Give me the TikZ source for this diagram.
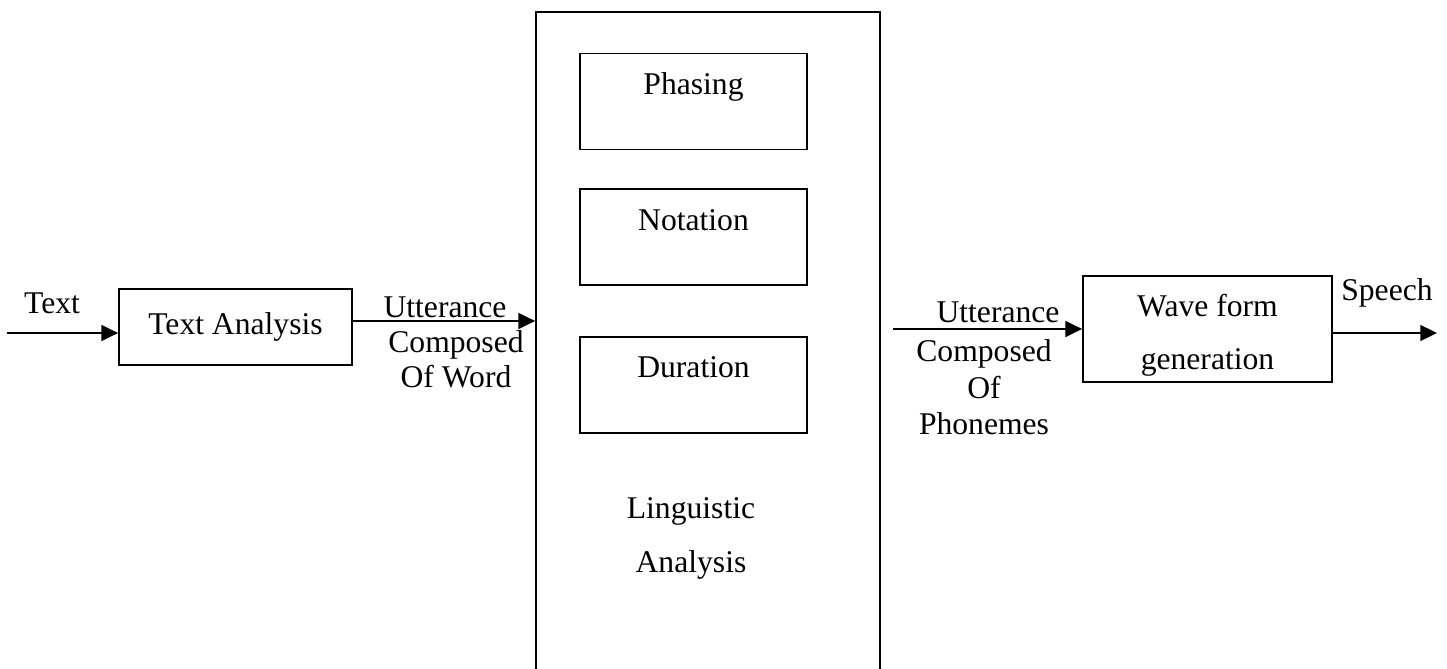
\documentclass[tikz,border=0pt]{standalone}
\usepackage{fontspec}
\setmainfont{Liberation Serif}
\usetikzlibrary{arrows.meta,positioning}

\begin{document}
\begin{tikzpicture}[
  x=0.02cm, y=-0.02cm,
  font=\fontsize{18}{20}\selectfont,
  box/.style={draw,line width=1pt,minimum width=4.66cm,minimum height=1.52cm,inner sep=0pt},
  subbox/.style={draw,line width=1pt,minimum width=4.54cm,inner sep=0pt,text height=0.82cm,text depth=1.10cm},
  arr/.style={-{Triangle[length=9.5pt,width=9pt]},line width=1pt}
]
\useasboundingbox (0,0) rectangle (1447,669);
% linguistic analysis block
\node[draw,line width=1pt,minimum width=6.88cm,minimum height=14cm,anchor=north] (ling) at (708,11) {};
\node[subbox] (phasing) at (693.5,101.5) {Phasing};
\node[subbox,below=0.76cm of phasing] (notation) {Notation};
\node[subbox,below=1cm of notation] (duration) {Duration};
\node[align=center,font=\fontsize{18}{30.6}\selectfont] (lingtxt) at (691,538.5) {Linguistic\\Analysis};

% text analysis
\node[box] (ta) at (235.5,327) {Text Analysis};
\coordinate (in) at (7,333);
\node[anchor=base] (txt) at (52,313) {Text};
\draw[arr] (in) -- (in -| ta.west);
\draw[arr] ([yshift=0.12cm]ta.east) -- ([yshift=0.12cm]ta.east -| ling.west);
\node[anchor=base] (utt1) at (445,317) {Utterance};
\node[align=center] (word) at (456,359.5) {Composed\\Of Word};

% wave form generation
\node[draw,line width=1pt,minimum width=4.98cm,minimum height=2.08cm,align=center,
  font=\fontsize{18}{30}\selectfont,text height=50pt,text depth=4pt] (wf) at (1207.5,329) {Wave form\\generation};
\coordinate (u2) at (893,329);
\draw[arr] (u2) -- (wf.west);
\node[anchor=base] (utt2) at (998,322) {Utterance};
\node[align=center,font=\fontsize{18}{20.7}\selectfont] (phon) at (984,387.5) {Composed\\Of\\Phonemes};
\coordinate (out) at (1437,333);
\draw[arr] (out -| wf.east) -- (out);
\node[anchor=base] (speech) at (1387,300) {Speech};
\end{tikzpicture}
\end{document}
